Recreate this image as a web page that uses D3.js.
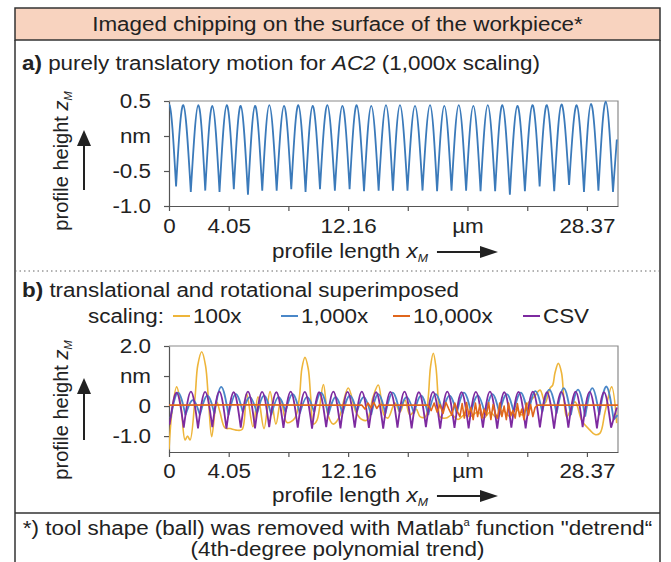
<!DOCTYPE html>
<html>
<head>
<meta charset="utf-8">
<script src="https://cdn.jsdelivr.net/npm/d3@7"></script>
<style>
body { margin: 0; background: #fff; }
svg { display: block; font-family: "Liberation Sans", Arial, sans-serif; }
</style>
</head>
<body>
<div id="chart"></div>
<script>
// x ticks (µm), shared by both panels
var xTickValues = [0, 4.053, 8.106, 12.16, 16.21, 20.26, 24.32, 28.37]
var xTickLabels = ["0", "4.05", "", "12.16", "", "\u00b5m", "", "28.37"]

// panel a: 1,000x, troughs and arch tops (last "peak" is the end of the trace)
var aTroughX = [-0.49, 0.48, 1.48, 2.46, 3.43, 4.40, 5.36, 6.33, 7.31, 8.30, 9.27, 10.25, 11.26, 12.26, 13.24, 14.23,
    15.20, 16.19, 17.21, 18.20, 19.18, 20.17, 21.15, 22.14, 23.14, 24.16, 25.16, 26.15, 27.16, 28.17, 29.15, 30.14]
var aTroughZ = [-0.78, -0.72, -0.80, -0.78, -0.80, -0.76, -0.84, -0.78, -0.78, -0.76, -0.80, -0.76, -0.78, -0.76, -0.79, -0.78,
    -0.78, -0.78, -0.78, -0.79, -0.78, -0.78, -0.79, -0.79, -0.84, -0.79, -0.72, -0.79, -0.70, -0.80, -0.78, -0.80]
var aPeakX = [0.00, 0.97, 1.99, 2.94, 3.92, 4.87, 5.84, 6.81, 7.81, 8.78, 9.75, 10.75, 11.77, 12.74, 13.73, 14.73,
    15.68, 16.70, 17.72, 18.69, 19.67, 20.66, 21.64, 22.63, 23.65, 24.67, 25.65, 26.64, 27.68, 28.65, 29.65, 30.40]
var aPeakZ = [0.45, 0.44, 0.44, 0.43, 0.44, 0.43, 0.43, 0.44, 0.43, 0.44, 0.43, 0.44, 0.43, 0.44, 0.43, 0.44,
    0.44, 0.43, 0.44, 0.43, 0.44, 0.43, 0.44, 0.44, 0.43, 0.44, 0.44, 0.45, 0.44, 0.46, 0.49, -0.05]

// panel b: CSV (purple)
var csvTroughX = [0.04, 1.00, 1.97, 2.94, 3.90, 4.87, 5.84, 6.80, 7.77, 8.74, 9.71, 10.67, 11.64, 12.61, 13.57, 14.54,
    15.51, 16.47, 17.44, 18.41, 19.38, 20.34, 21.31, 22.28, 23.24, 24.21, 25.18, 26.14, 27.11, 28.08, 29.05, 30.01]
var csvTroughZ = [-0.62, -0.72, -0.74, -0.70, -0.75, -0.72, -0.74, -0.70, -0.73, -0.72, -0.75, -0.70, -0.74, -0.72, -0.73, -0.75,
    -0.72, -0.74, -0.70, -0.75, -0.73, -0.74, -0.72, -0.75, -0.72, -0.74, -0.71, -0.75, -0.72, -0.70, -0.74, -0.72]
var csvPeakX = [0.52, 1.49, 2.45, 3.42, 4.39, 5.36, 6.32, 7.29, 8.26, 9.22, 10.19, 11.16, 12.12, 13.09, 14.06, 15.03,
    15.99, 16.96, 17.93, 18.89, 19.86, 20.83, 21.79, 22.76, 23.73, 24.70, 25.66, 26.63, 27.60, 28.56, 29.53, 30.40]
var csvPeakZ = [0.45, 0.48, 0.47, 0.48, 0.46, 0.48, 0.47, 0.46, 0.48, 0.47, 0.46, 0.48, 0.47, 0.48, 0.46, 0.47,
    0.48, 0.46, 0.47, 0.48, 0.46, 0.47, 0.48, 0.46, 0.47, 0.48, 0.46, 0.47, 0.48, 0.47, 0.46, -0.05]

// panel b: 1,000x (blue)
var b1TroughX = [0.10, 1.12, 2.10, 3.08, 4.04, 5.01, 5.98, 6.94, 7.91, 8.88, 9.85, 10.82, 11.78, 12.75, 13.72, 14.69,
    15.66, 16.63, 17.60, 18.57, 19.53, 20.50, 21.47, 22.43, 23.40, 24.37, 25.34, 26.31, 27.28, 28.25, 29.21, 30.18]
var b1TroughZ = [-0.40, -0.30, -0.30, -0.25, -0.30, -0.20, -0.25, -0.30, -0.20, -0.25, -0.20, -0.30, -0.25, -0.20, -0.30, -0.25,
    -0.20, -0.25, -0.30, -0.20, -0.25, -0.20, -0.30, -0.25, -0.20, -0.30, -0.20, -0.25, -0.30, -0.35, -0.30, -0.45]
var b1PeakX = [0.60, 1.62, 2.60, 3.55, 4.52, 5.50, 6.46, 7.42, 8.40, 9.36, 10.33, 11.30, 12.27, 13.24, 14.20, 15.18,
    16.14, 17.12, 18.08, 19.05, 20.02, 20.98, 21.95, 22.92, 23.89, 24.86, 25.82, 26.80, 27.77, 28.73, 29.70, 30.45]
var b1PeakZ = [0.45, 0.20, 0.35, 0.64, 0.40, 0.30, 0.35, 0.30, 0.40, 0.30, 0.45, 0.30, 0.35, 0.30, 0.40, 0.45,
    0.30, 0.35, 0.40, 0.35, 0.45, 0.35, 0.40, 0.40, 0.45, 0.50, 0.55, 0.60, 0.55, 0.60, 0.65, -0.30]

// panel b: 100x (yellow)
var b100X = [0.00, 0.20, 0.52, 0.81, 1.09, 1.26, 1.43, 1.77, 1.95, 2.22, 2.48, 2.68, 2.90, 3.24, 3.46, 3.80,
    4.14, 4.55, 4.96, 5.27, 5.70, 6.04, 6.45, 6.86, 7.26, 7.60, 8.01, 8.55, 8.85, 9.02, 9.23, 9.45,
    9.62, 9.80, 10.05, 10.48, 10.79, 11.13, 11.40, 11.61, 12.17, 12.69, 13.10, 13.44, 13.85, 14.21, 14.60, 14.87,
    15.34, 15.68, 16.02, 16.36, 16.77, 17.04, 17.40, 17.60, 17.75, 17.94, 18.12, 18.28, 18.40, 18.80, 19.21, 19.62,
    20.03, 20.43, 20.98, 21.38, 21.79, 22.27, 22.67, 23.15, 23.56, 23.96, 24.37, 24.78, 25.19, 25.53, 25.87, 26.05,
    26.20, 26.43, 26.65, 26.80, 27.00, 27.56, 28.04, 28.58, 28.92, 29.26, 29.60, 30.05, 30.39]
var b100Z = [-1.45, -0.20, 0.64, 0.00, -1.13, -1.00, -1.13, 0.30, 1.35, 1.81, 1.35, 0.20, -1.02, 0.14, -0.20, -0.73,
    -0.75, -0.80, -0.78, 0.42, -0.69, 0.31, -0.75, 0.48, -0.60, 0.20, -0.55, -0.40, 0.30, 1.25, 1.62, 1.25,
    0.30, -0.60, -0.47, 0.72, -0.30, -0.60, -0.50, -0.30, 0.60, -0.20, -0.45, -0.47, 0.30, 0.70, -0.30, -0.40,
    0.10, -0.20, 0.20, -0.30, -0.10, -0.35, -0.36, 0.30, 1.30, 1.76, 1.30, 0.20, -0.36, -0.40, -0.30, -0.45,
    -0.30, -0.35, -0.20, -0.40, -0.20, -0.40, -0.15, -0.35, -0.10, -0.30, 0.10, 0.30, 0.53, 0.10, 0.60, 0.70,
    1.10, 1.42, 1.10, 0.30, -0.36, 0.14, -0.50, -0.80, -0.95, -0.90, -0.20, 0.64, -0.57]

// panel b: 10,000x (orange)
var b10kX = [0.00, 5.00, 10.00, 13.10, 13.30, 13.50, 13.70, 13.90, 14.10, 14.30, 14.50, 15.00, 17.60, 17.80, 18.00, 18.20,
    18.40, 18.60, 18.80, 19.00, 19.20, 19.40, 19.60, 19.75, 19.90, 20.05, 20.20, 20.35, 20.50, 20.65, 20.80, 20.95,
    21.10, 21.25, 21.40, 21.55, 21.70, 21.85, 22.00, 22.15, 22.30, 22.45, 22.60, 22.75, 22.90, 23.05, 23.20, 23.35,
    23.50, 23.65, 23.80, 23.95, 24.10, 24.25, 24.40, 24.55, 24.70, 24.85, 25.00, 25.30, 30.48]
var b10kZ = [0.03, 0.04, 0.03, 0.03, -0.10, 0.10, -0.05, 0.12, -0.08, 0.05, 0.03, 0.03, 0.03, -0.15, 0.10, -0.20,
    0.05, -0.25, 0.12, -0.10, -0.30, 0.10, -0.20, -0.35, 0.08, -0.40, 0.12, -0.30, -0.05, -0.45, 0.10, -0.35,
    0.05, -0.40, -0.10, -0.30, 0.12, -0.45, 0.05, -0.25, -0.40, 0.10, -0.35, 0.00, -0.45, 0.10, -0.30, -0.15,
    -0.40, 0.08, -0.35, -0.10, -0.45, 0.10, -0.30, 0.05, -0.35, -0.05, 0.03, 0.03, 0.03]

var legendLabels = ["100x", "1,000x", "10,000x", "CSV"]
var legendColors = ["#eeb53a", "#4a87c8", "#e0661c", "#7d2aa0"]

var W = 671, H = 562
var left = 169, right = 618
var ink = "#222", axisCol = "#555"
var wide = 1.12   // the original lettering is a bit wider than Liberation Sans

// stretch horizontal text to the wider lettering of the original
function stretch(sel){
    sel.each(function(){
        var w = this.getComputedTextLength()
        if (w > 0) d3.select(this).attr("textLength", w * wide).attr("lengthAdjust", "spacingAndGlyphs")
    })
}

var svg = d3.select("#chart").append("svg")
    .attr("width", W)
    .attr("height", H)

// frame + header band
svg.append("rect")
    .attr("x", 15).attr("y", 8).attr("width", 645).attr("height", 32)
    .attr("fill", "#f8d3bf").attr("stroke", "#333").attr("stroke-width", 1.5)
svg.append("path")
    .attr("d", "M15,40V562M660,40V562M15,513H660")
    .attr("stroke", "#333").attr("stroke-width", 1.5).attr("fill", "none")
svg.append("line")
    .attr("x1", 15).attr("x2", 660).attr("y1", 271).attr("y2", 271)
    .attr("stroke", "#666").attr("stroke-dasharray", "1.5,3")

svg.append("text")
    .attr("x", 337.5).attr("y", 31).attr("text-anchor", "middle")
    .attr("font-size", 20).attr("fill", ink)
    .text("Imaged chipping on the surface of the workpiece*")
    .call(stretch)

var ta = svg.append("text").attr("x", 22).attr("y", 70).attr("font-size", 20).attr("fill", ink)
ta.append("tspan").attr("font-weight", "bold").text("a)")
ta.append("tspan").text(" purely translatory motion for ")
ta.append("tspan").attr("font-style", "italic").text("AC2")
ta.append("tspan").text(" (1,000x scaling)")
ta.call(stretch)

var tb = svg.append("text").attr("x", 22).attr("y", 297).attr("font-size", 20).attr("fill", ink)
tb.append("tspan").attr("font-weight", "bold").text("b)")
tb.append("tspan").text(" translational and rotational superimposed")
tb.call(stretch)

// legend
var lg = svg.append("g").attr("font-size", 20).attr("fill", ink)
lg.append("text").attr("x", 88).attr("y", 323).text("scaling:").call(stretch)
var legendX = [173, 281, 393, 523]
legendLabels.forEach(function(lab, i){
    lg.append("line")
        .attr("x1", legendX[i]).attr("x2", legendX[i] + 17)
        .attr("y1", 316).attr("y2", 316)
        .attr("stroke", legendColors[i]).attr("stroke-width", 2)
    lg.append("text").attr("x", legendX[i] + 20).attr("y", 323).text(lab).call(stretch)
})

svg.append("text").attr("x", 337.5).attr("y", 535).attr("text-anchor", "middle")
    .attr("font-size", 20).attr("fill", ink)
    .call(function(t){
        t.append("tspan").text("*) tool shape (ball) was removed with Matlab")
        t.append("tspan").attr("font-size", 10).attr("dy", -9).text("a")
        t.append("tspan").attr("dy", 9).text(" function \"detrend\u201c")
    })
    .call(stretch)
svg.append("text").attr("x", 337.5).attr("y", 556).attr("text-anchor", "middle")
    .attr("font-size", 20).attr("fill", ink)
    .text("(4th-degree polynomial trend)")
    .call(stretch)

function arrowUp(g, x, y1, y2){
    g.append("line").attr("x1", x).attr("x2", x).attr("y1", y1).attr("y2", y2 + 14)
        .attr("stroke", ink).attr("stroke-width", 2)
    g.append("path").attr("d", "M" + (x - 7) + "," + (y2 + 16) + "L" + x + "," + y2 + "L" + (x + 7) + "," + (y2 + 16) + "Z")
        .attr("fill", ink)
}

function arrowRight(g, x1, x2, y){
    g.append("line").attr("x1", x1).attr("x2", x2 - 16).attr("y1", y).attr("y2", y)
        .attr("stroke", ink).attr("stroke-width", 2)
    g.append("path").attr("d", "M" + (x2 - 18) + "," + (y - 6) + "L" + x2 + "," + y + "L" + (x2 - 18) + "," + (y + 6) + "Z")
        .attr("fill", ink)
}

var panelNo = 0
function panel(o){
    var top = o.top, bottom = o.bottom
    var id = "clip" + (panelNo++)
    var x = d3.scaleLinear().domain([0, 30.48]).range([left, right])
    var y = d3.scaleLinear().domain(o.yDomain).range([bottom, top])
    var g = svg.append("g")

    g.append("clipPath").attr("id", id).append("rect")
        .attr("x", left).attr("y", top - 10).attr("width", right - left).attr("height", bottom - top + 12)

    g.append("path")
        .attr("d", "M" + left + "," + top + "H" + right + "V" + bottom)
        .attr("fill", "none").attr("stroke", "#8a8a8a").attr("stroke-width", 1.2)

    var yAx = g.append("g")
        .attr("transform", "translate(" + left + ",0)")
        .call(d3.axisLeft(y)
            .tickValues(o.yTicks)
            .tickFormat(function(d, i){ return o.yLabels[i] })
            .tickSize(5).tickSizeOuter(0).tickPadding(13))
    var xAx = g.append("g")
        .attr("transform", "translate(0," + bottom + ")")
        .call(d3.axisBottom(x)
            .tickValues(xTickValues)
            .tickFormat(function(d, i){ return xTickLabels[i] })
            .tickSize(5).tickSizeOuter(0).tickPadding(o.tickPad))
    ;[yAx, xAx].forEach(function(a){
        a.attr("font-family", null).attr("font-size", 20)
        a.select(".domain").attr("stroke", axisCol).attr("stroke-width", 1.2)
        a.selectAll(".tick line").attr("stroke", axisCol).attr("stroke-width", 1.2)
        a.selectAll(".tick text").attr("fill", ink).call(stretch)
    })

    // y title (rotated, so not stretched)
    var yt = g.append("text")
        .attr("transform", "translate(68," + o.yTitle + ") rotate(-90)")
        .attr("text-anchor", "middle").attr("font-size", 20).attr("fill", ink)
    yt.append("tspan").text("profile height ")
    yt.append("tspan").attr("font-style", "italic").text("z")
    yt.append("tspan").attr("font-style", "italic").attr("font-size", 11).attr("dy", 4).text("M")
    arrowUp(g, 84, o.arrowY[1], o.arrowY[0])

    // x title
    var xt = g.append("text").attr("x", 272).attr("y", o.xTitle).attr("font-size", 20).attr("fill", ink)
    xt.append("tspan").text("profile length ")
    xt.append("tspan").attr("font-style", "italic").text("x")
    xt.append("tspan").attr("font-style", "italic").attr("font-size", 11).attr("dy", 4).text("M")
    var w0 = xt.node().getComputedTextLength()
    xt.call(stretch)
    arrowRight(g, 272 + w0 * wide + 9, 498, o.xTitle - 6)

    return {x: x, y: y, g: g, clip: "url(#" + id + ")"}
}

function archSegments(tx, tz, px, pz){
    var pts = []
    tx.forEach(function(t, i){
        pts.push([t, tz[i]])
        if (i < px.length) pts.push([px[i], pz[i]])
    })
    var segs = []
    for (var i = 0; i < pts.length - 1; i += 2) segs.push(pts.slice(i, i + 3))
    return segs
}

function drawArches(p, tx, tz, px, pz, color){
    var line = d3.line()
        .x(function(d){ return p.x(d[0]) })
        .y(function(d){ return p.y(d[1]) })
        .curve(d3.curveNatural)
    p.g.append("path")
        .attr("clip-path", p.clip)
        .attr("d", archSegments(tx, tz, px, pz).map(function(s){ return line(s) }).join(""))
        .attr("fill", "none").attr("stroke", color).attr("stroke-width", 1.8)
        .attr("stroke-linejoin", "round")
}

function drawTrace(p, xs, zs, color, curve){
    var line = d3.line()
        .x(function(d){ return p.x(d[0]) })
        .y(function(d){ return p.y(d[1]) })
        .curve(curve)
    p.g.append("path")
        .attr("clip-path", p.clip)
        .attr("d", line(xs.map(function(v, i){ return [v, zs[i]] })))
        .attr("fill", "none").attr("stroke", color).attr("stroke-width", 1.6)
        .attr("stroke-linejoin", "round")
}

var pa = panel({top: 101, bottom: 206, yDomain: [-1.0, 0.5], yTicks: [0.5, 0, -0.5, -1.0],
    yLabels: ["0.5", "nm", "-0.5", "-1.0"], tickPad: 8, yTitle: 161, arrowY: [130, 190], xTitle: 258})
drawArches(pa, aTroughX, aTroughZ, aPeakX, aPeakZ, "#3b7aba")

var pb = panel({top: 346, bottom: 452, yDomain: [-1.53, 2.0], yTicks: [2.0, 1.0, 0, -1.0],
    yLabels: ["2.0", "nm", "0", "-1.0"], tickPad: 7, yTitle: 410, arrowY: [378, 440], xTitle: 502})
drawTrace(pb, b100X, b100Z, legendColors[0], d3.curveCatmullRom.alpha(0.5))
drawArches(pb, b1TroughX, b1TroughZ, b1PeakX, b1PeakZ, legendColors[1])
drawArches(pb, csvTroughX, csvTroughZ, csvPeakX, csvPeakZ, legendColors[3])
drawTrace(pb, b10kX, b10kZ, legendColors[2], d3.curveLinear)
</script>
</body>
</html>
